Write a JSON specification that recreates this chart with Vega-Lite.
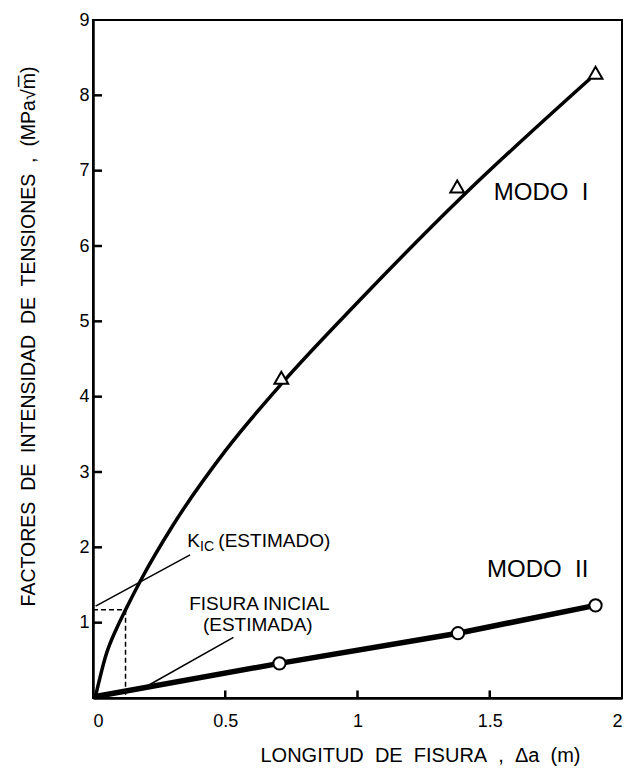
{
  "$schema": "https://vega.github.io/schema/vega-lite/v6.json",
  "width": 529,
  "height": 678,
  "autosize": {"type": "none"},
  "padding": {"left": 93, "top": 20, "right": 5, "bottom": 70},
  "background": "white",
  "config": {
    "font": "Liberation Sans",
    "view": {"stroke": "black", "strokeWidth": 2},
    "axis": {
      "domainColor": "black",
      "domainWidth": 2.5,
      "ticks": false,
      "grid": false,
      "labelFont": "Liberation Sans",
      "labelFontSize": 18,
      "labelColor": "black",
      "titleFont": "Liberation Sans",
      "titleFontSize": 20,
      "titleFontWeight": "normal",
      "titleColor": "black"
    }
  },
  "datasets": {
    "modo1": [
      {"x": 0.01, "y": 0.03},
      {"x": 0.05, "y": 0.58},
      {"x": 0.09, "y": 0.93},
      {"x": 0.123, "y": 1.17},
      {"x": 0.18, "y": 1.56},
      {"x": 0.3, "y": 2.28},
      {"x": 0.5, "y": 3.28},
      {"x": 0.72, "y": 4.2},
      {"x": 1.0, "y": 5.25},
      {"x": 1.4, "y": 6.67},
      {"x": 1.876, "y": 8.21}
    ],
    "modo1pts": [
      {"x": 0.712, "y": 4.25},
      {"x": 1.377, "y": 6.79},
      {"x": 1.9, "y": 8.3}
    ],
    "modo2": [
      {"x": 0.01, "y": 0.02},
      {"x": 0.705, "y": 0.46},
      {"x": 1.38, "y": 0.86},
      {"x": 1.9, "y": 1.23}
    ],
    "leaders": [
      {"x": 0.01, "y": 1.22, "x2": 0.367, "y2": 1.9},
      {"x": 0.178, "y": 0.106, "x2": 0.531, "y2": 0.806}
    ],
    "dashed": [
      {"x": 0.0, "y": 1.17, "x2": 0.123, "y2": 1.17},
      {"x": 0.123, "y": 1.17, "x2": 0.123, "y2": 0.0}
    ],
    "ticks": [
      {"x": 0, "y": 1, "x2": 0.034, "y2": 1}, {"x": 0, "y": 2, "x2": 0.034, "y2": 2},
      {"x": 0, "y": 3, "x2": 0.034, "y2": 3}, {"x": 0, "y": 4, "x2": 0.034, "y2": 4},
      {"x": 0, "y": 5, "x2": 0.034, "y2": 5}, {"x": 0, "y": 6, "x2": 0.034, "y2": 6},
      {"x": 0, "y": 7, "x2": 0.034, "y2": 7}, {"x": 0, "y": 8, "x2": 0.034, "y2": 8},
      {"x": 0.5, "y": 0, "x2": 0.5, "y2": 0.1}, {"x": 1, "y": 0, "x2": 1, "y2": 0.1},
      {"x": 1.5, "y": 0, "x2": 1.5, "y2": 0.1}
    ],
    "bigLabels": [
      {"x": 1.515, "y": 6.71, "text": "MODO\u00a0 I"},
      {"x": 1.49, "y": 1.7, "text": "MODO\u00a0 II"}
    ],
    "notes": [
      {"x": 0.356, "y": 2.09, "text": "K"},
      {"x": 0.474, "y": 2.09, "text": "(ESTIMADO)"}
    ],
    "subs": [
      {"x": 0.405, "y": 2.0, "text": "IC"}
    ],
    "centerNotes": [
      {"x": 0.629, "y": 1.25, "text": "FISURA INICIAL"},
      {"x": 0.623, "y": 0.97, "text": "(ESTIMADA)"}
    ]
  },
  "encoding": {
    "x": {
      "field": "x",
      "type": "quantitative",
      "scale": {"domain": [0, 2], "nice": false, "zero": false},
      "axis": {
        "values": [0, 0.5, 1, 1.5, 2],
        "format": "~g",
        "labelPadding": 14,
        "title": "LONGITUD\u00a0 DE\u00a0 FISURA\u00a0 ,\u00a0 Δa\u00a0 (m)",
        "titleX": 327,
        "titleY": 57,
        "titleBaseline": "middle",
        "titleAnchor": null
      }
    },
    "y": {
      "field": "y",
      "type": "quantitative",
      "scale": {"domain": [0, 9], "nice": false, "zero": false},
      "axis": {
        "values": [1, 2, 3, 4, 5, 6, 7, 8, 9],
        "labelPadding": 4,
        "title": "FACTORES\u00a0 DE\u00a0 INTENSIDAD\u00a0 DE\u00a0 TENSIONES\u00a0 ,\u00a0 (MPa√m̅)",
        "titleFontSize": 19.5,
        "titleAngle": -90,
        "titleX": -65,
        "titleY": 316,
        "titleAlign": "center",
        "titleBaseline": "middle"
      }
    }
  },
  "layer": [
    {
      "data": {"name": "ticks"},
      "mark": {"type": "rule", "color": "black", "strokeWidth": 2.5},
      "encoding": {"x2": {"field": "x2"}, "y2": {"field": "y2"}}
    },
    {
      "data": {"name": "dashed"},
      "mark": {"type": "rule", "color": "black", "strokeWidth": 1.5, "strokeDash": [5, 3]},
      "encoding": {"x2": {"field": "x2"}, "y2": {"field": "y2"}}
    },
    {
      "data": {"name": "leaders"},
      "mark": {"type": "rule", "color": "black", "strokeWidth": 1.5},
      "encoding": {"x2": {"field": "x2"}, "y2": {"field": "y2"}}
    },
    {
      "data": {"name": "modo1"},
      "mark": {"type": "line", "color": "black", "strokeWidth": 3.5, "interpolate": "monotone", "strokeCap": "round"},
      "encoding": {}
    },
    {
      "data": {"name": "modo2"},
      "mark": {"type": "line", "color": "black", "strokeWidth": 5.5, "strokeCap": "round"},
      "encoding": {}
    },
    {
      "data": {"name": "modo1pts"},
      "mark": {"type": "point", "shape": "triangle-up", "filled": true, "fill": "white", "stroke": "black", "strokeWidth": 2, "size": 190, "opacity": 1},
      "encoding": {}
    },
    {
      "data": {"name": "modo2"},
      "transform": [{"filter": "datum.x > 0.5"}],
      "mark": {"type": "point", "shape": "circle", "filled": true, "fill": "white", "stroke": "black", "strokeWidth": 2, "size": 150, "opacity": 1},
      "encoding": {}
    },
    {
      "data": {"name": "bigLabels"},
      "mark": {"type": "text", "align": "left", "baseline": "middle", "fontSize": 24, "color": "black"},
      "encoding": {"text": {"field": "text"}}
    },
    {
      "data": {"name": "notes"},
      "mark": {"type": "text", "align": "left", "baseline": "middle", "fontSize": 19, "color": "black"},
      "encoding": {"text": {"field": "text"}}
    },
    {
      "data": {"name": "subs"},
      "mark": {"type": "text", "align": "left", "baseline": "middle", "fontSize": 14, "color": "black"},
      "encoding": {"text": {"field": "text"}}
    },
    {
      "data": {"name": "centerNotes"},
      "mark": {"type": "text", "align": "center", "baseline": "middle", "fontSize": 19, "color": "black"},
      "encoding": {"text": {"field": "text"}}
    }
  ]
}
